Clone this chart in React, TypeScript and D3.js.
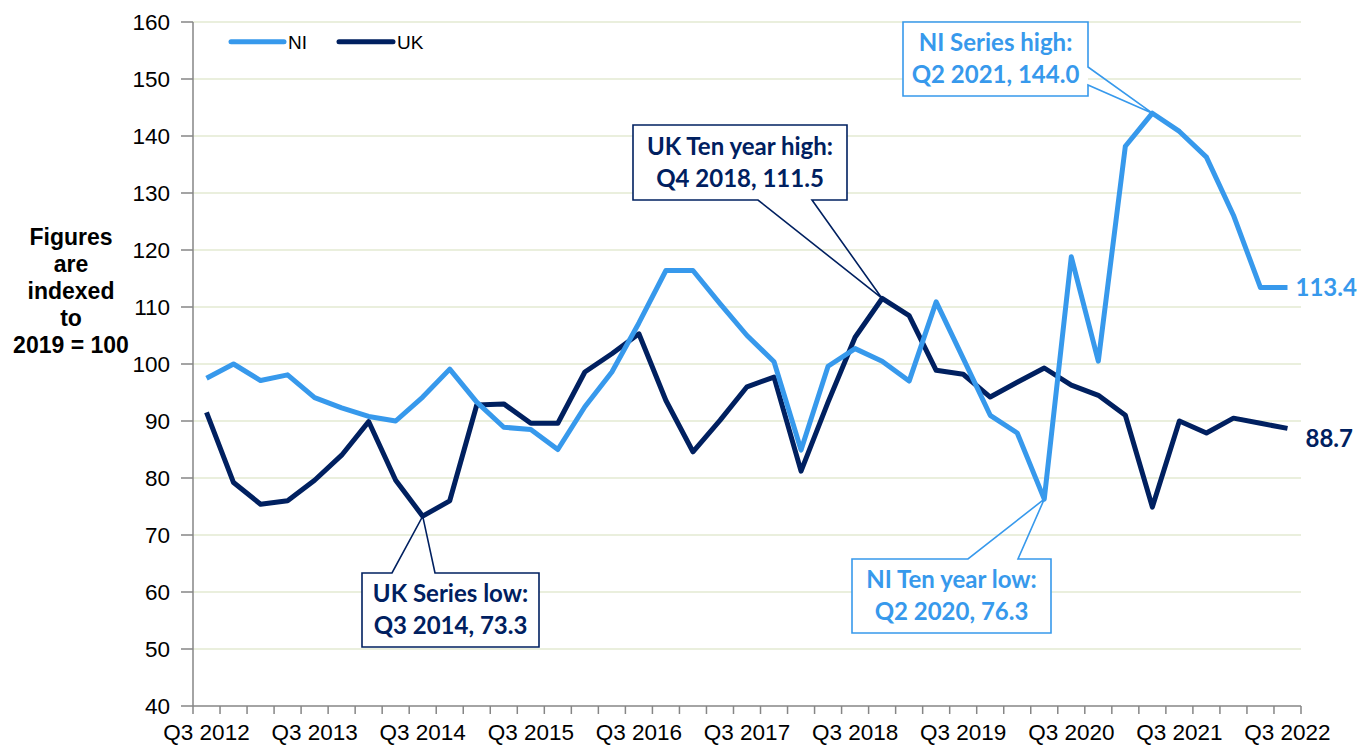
import React from "react";
import * as d3 from "d3";

const quarters = [
  "Q3 2012","Q4 2012","Q1 2013","Q2 2013","Q3 2013","Q4 2013","Q1 2014","Q2 2014",
  "Q3 2014","Q4 2014","Q1 2015","Q2 2015","Q3 2015","Q4 2015","Q1 2016","Q2 2016",
  "Q3 2016","Q4 2016","Q1 2017","Q2 2017","Q3 2017","Q4 2017","Q1 2018","Q2 2018",
  "Q3 2018","Q4 2018","Q1 2019","Q2 2019","Q3 2019","Q4 2019","Q1 2020","Q2 2020",
  "Q3 2020","Q4 2020","Q1 2021","Q2 2021","Q3 2021","Q4 2021","Q1 2022","Q2 2022",
  "Q3 2022",
];

const niValues = [
  97.5, 100.0, 97.1, 98.1, 94.1, 92.3, 90.8, 90.0, 94.2, 99.1, 93.3, 88.9, 88.5, 85.0,
  92.5, 98.6, 107.2, 116.4, 116.4, 110.6, 105.0, 100.4, 84.9, 99.6, 102.7, 100.5, 97.0,
  110.9, 101.0, 91.0, 87.9, 76.3, 118.8, 100.5, 138.2, 144.0, 140.8, 136.3, 126.1, 113.4,
  113.4,
];

const ukValues = [
  91.5, 79.2, 75.4, 76.0, 79.6, 84.0, 89.9, 79.6, 73.3, 76.0, 92.8, 93.0, 89.6, 89.6,
  98.6, 101.8, 105.3, 93.6, 84.6, 90.1, 96.0, 97.7, 81.2, 93.3, 104.7, 111.5, 108.5,
  98.9, 98.2, 94.2, 96.8, 99.3, 96.3, 94.5, 91.0, 74.9, 90.0, 87.9, 90.5, 89.6, 88.7,
];

const yTicks = [40, 50, 60, 70, 80, 90, 100, 110, 120, 130, 140, 150, 160];
const xTickLabels = [
  "Q3 2012","Q3 2013","Q3 2014","Q3 2015","Q3 2016","Q3 2017",
  "Q3 2018","Q3 2019","Q3 2020","Q3 2021","Q3 2022",
];
const yTitleLines = ["Figures", "are", "indexed", "to", "2019 = 100"];

const NI_COLOR = "#3799ec";
const UK_COLOR = "#002060";

type Callout = {
  lines: string[];
  color: string;
  series: "ni" | "uk";
  quarter: string;
  box: [number, number, number, number]; // x0,y0,x1,y1
  side: "top" | "bottom" | "right";
  wedge: [number, number];
};

const callouts: Callout[] = [
  { lines: ["NI Series high:", "Q2 2021, 144.0"], color: NI_COLOR, series: "ni", quarter: "Q2 2021",
    box: [903, 22, 1088, 96], side: "right", wedge: [67, 85] },
  { lines: ["UK Ten year high:", "Q4 2018, 111.5"], color: UK_COLOR, series: "uk", quarter: "Q4 2018",
    box: [633, 125, 847, 200], side: "bottom", wedge: [758, 812] },
  { lines: ["UK Series low:", "Q3 2014, 73.3"], color: UK_COLOR, series: "uk", quarter: "Q3 2014",
    box: [362, 573, 539, 647], side: "top", wedge: [392, 435] },
  { lines: ["NI Ten year low:", "Q2 2020, 76.3"], color: NI_COLOR, series: "ni", quarter: "Q2 2020",
    box: [852, 559, 1051, 633], side: "top", wedge: [968, 1018] },
];

export default function App() {
  const W = 1367, H = 747;
  const left = 193, right = 1301, top = 22, bottom = 706;
  const x = d3.scaleBand<string>().domain(quarters).range([left, right]).padding(0);
  const y = d3.scaleLinear().domain([40, 160]).range([bottom, top]);
  const cx = (q: string) => (x(q) as number) + x.bandwidth() / 2;

  const line = d3.line<number>()
    .x((_, i) => cx(quarters[i]))
    .y((v) => y(v));

  const axisFont = "'Liberation Sans', Arial, sans-serif";
  const calloutFont = "Lato, 'Open Sans', sans-serif";

  const boundaries = quarters.map((q) => x(q) as number).concat([right]);

  return (
    <svg width={W} height={H} style={{ position: "absolute", left: 0, top: 0, background: "#fff" }}>
      {/* gridlines */}
      {yTicks.filter((t) => t !== 40).map((t) => (
        <line key={"g" + t} x1={left} x2={right} y1={y(t)} y2={y(t)} stroke="#e3ead2" strokeWidth={1.6} />
      ))}
      {/* y axis */}
      <line x1={left} x2={left} y1={top} y2={bottom} stroke="#868686" strokeWidth={1.5} />
      {yTicks.map((t) => (
        <g key={"yt" + t}>
          <line x1={left - 12} x2={left} y1={y(t)} y2={y(t)} stroke="#868686" strokeWidth={1.5} />
          <text x={170} y={y(t)} dy="0.36em" textAnchor="end" fontFamily={axisFont} fontSize={22.5} fill="#000">
            {t}
          </text>
        </g>
      ))}
      {/* x axis */}
      <line x1={left} x2={right} y1={bottom} y2={bottom} stroke="#868686" strokeWidth={1.5} />
      {boundaries.map((b, i) => (
        <line key={"xt" + i} x1={b} x2={b} y1={bottom} y2={bottom + 8} stroke="#868686" strokeWidth={1.5} />
      ))}
      {xTickLabels.map((q) => (
        <text key={"xl" + q} x={cx(q)} y={740} textAnchor="middle" fontFamily={axisFont} fontSize={22.5} fill="#000">
          {q}
        </text>
      ))}
      {/* y title */}
      <text fontFamily={axisFont} fontWeight="bold" fontSize={23} textAnchor="middle" fill="#000">
        {yTitleLines.map((l, i) => (
          <tspan key={l} x={71} y={245 + i * 27}>{l}</tspan>
        ))}
      </text>
      {/* legend */}
      <line x1={231} x2={284} y1={41.7} y2={41.7} stroke={NI_COLOR} strokeWidth={5} strokeLinecap="round" />
      <text x={288} y={41.7} dy="0.36em" fontFamily={axisFont} fontSize={19}>NI</text>
      <line x1={339} x2={393} y1={41.7} y2={41.7} stroke={UK_COLOR} strokeWidth={5} strokeLinecap="round" />
      <text x={397} y={41.7} dy="0.36em" fontFamily={axisFont} fontSize={19}>UK</text>
      {/* series */}
      <path d={line(ukValues) || ""} fill="none" stroke={UK_COLOR} strokeWidth={5} strokeLinejoin="round" />
      <path d={line(niValues) || ""} fill="none" stroke={NI_COLOR} strokeWidth={5} strokeLinejoin="round" />
      {/* end labels */}
      <text x={cx(quarters[40]) + 8} y={y(niValues[40])} dy="0.35em" fontFamily={calloutFont} fontWeight="bold"
        fontSize={24} fill={NI_COLOR}>{niValues[40].toFixed(1)}</text>
      <text x={cx(quarters[40]) + 18} y={y(ukValues[40]) + 10} dy="0.35em" fontFamily={calloutFont} fontWeight="bold"
        fontSize={24} fill={UK_COLOR}>{ukValues[40].toFixed(1)}</text>
      {/* callouts */}
      {callouts.map((c) => {
        const idx = quarters.indexOf(c.quarter);
        const v = c.series === "ni" ? niValues[idx] : ukValues[idx];
        const tx = cx(c.quarter), ty = y(v);
        const [x0, y0, x1, y1] = c.box;
        let d = "";
        if (c.side === "top") {
          d = `M${x0},${y0}L${c.wedge[0]},${y0}L${tx},${ty}L${c.wedge[1]},${y0}L${x1},${y0}L${x1},${y1}L${x0},${y1}Z`;
        } else if (c.side === "bottom") {
          d = `M${x0},${y0}L${x1},${y0}L${x1},${y1}L${c.wedge[1]},${y1}L${tx},${ty}L${c.wedge[0]},${y1}L${x0},${y1}Z`;
        } else {
          d = `M${x0},${y0}L${x1},${y0}L${x1},${c.wedge[0]}L${tx},${ty}L${x1},${c.wedge[1]}L${x1},${y1}L${x0},${y1}Z`;
        }
        const mx = (x0 + x1) / 2;
        const my = (y0 + y1) / 2;
        return (
          <g key={c.quarter}>
            <rect x={x0} y={y0} width={x1 - x0} height={y1 - y0} fill="#fff" />
            <path d={d} fill="none" stroke={c.color} strokeWidth={1.6} strokeLinejoin="miter" />
            {c.lines.map((l, i) => (
              <text key={l} x={mx} y={my + (i - 0.5) * 32} dy="0.35em" textAnchor="middle"
                fontFamily={calloutFont} fontWeight="bold" fontSize={24} fill={c.color}>{l}</text>
            ))}
          </g>
        );
      })}
    </svg>
  );
}
